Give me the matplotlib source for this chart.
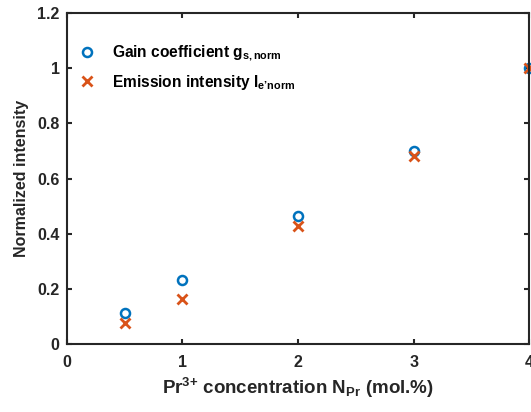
import numpy as np
import matplotlib
matplotlib.use('Agg')
import matplotlib.pyplot as plt

# data
conc = [0.5, 1, 2, 3, 4]
gain_norm = [0.115, 0.232, 0.465, 0.701, 1.0]
emission_norm = [0.076, 0.164, 0.429, 0.683, 1.0]

xticks = [0, 1, 2, 3, 4]
yticks = [0, 0.2, 0.4, 0.6, 0.8, 1.0, 1.2]
yticklabels = ['0', '0.2', '0.4', '0.6', '0.8', '1', '1.2']

plt.rcParams['font.family'] = ['Liberation Sans', 'DejaVu Sans']
plt.rcParams['font.weight'] = 'bold'
plt.rcParams['mathtext.fontset'] = 'custom'
plt.rcParams['mathtext.rm'] = 'Liberation Sans:bold'
plt.rcParams['mathtext.it'] = 'Liberation Sans:bold'
plt.rcParams['mathtext.bf'] = 'Liberation Sans:bold'
plt.rcParams['mathtext.default'] = 'rm'

blue = '#0072BD'
orange = '#D95319'
dark = '#262626'

fig = plt.figure(figsize=(5.31, 4.12), dpi=100)
ax = fig.add_axes([0.1256, 0.1643, 0.8715, 0.8041])

ax.plot(conc, gain_norm, linestyle='none', marker='o', markersize=6.5,
        markerfacecolor='none', markeredgecolor=blue, markeredgewidth=1.8,
        clip_on=False, label='Gain coefficient g$_{s,norm}$')
ax.plot(conc, emission_norm, linestyle='none', marker='x', markersize=6.5,
        color=orange, markeredgewidth=2.0, clip_on=False,
        label='Emission intensity I$_{e’norm}$')

ax.set_xlim(0, 4)
ax.set_ylim(0, 1.2)
ax.set_xticks(xticks)
ax.set_yticks(yticks)
ax.set_yticklabels(yticklabels)

for s in ax.spines.values():
    s.set_linewidth(1.5)
    s.set_color(dark)
ax.tick_params(direction='in', length=3.5, width=1.5, color=dark,
               top=True, right=True, labelsize=11.5, labelcolor=dark)
ax.tick_params(axis='x', pad=8)
ax.tick_params(axis='y', pad=5)

ax.set_xlabel('Pr$^{3{+}}$ concentration N$_{Pr}$ (mol.%)', fontsize=13.5,
              fontweight='bold', color=dark, labelpad=4)
ax.set_ylabel('Normalized intensity', fontsize=11.5, fontweight='bold',
              color=dark, labelpad=6)

ax.legend(loc='upper left', bbox_to_anchor=(0.0, 0.94), frameon=False,
          fontsize=11.2, handletextpad=1.0, handlelength=1.2,
          labelspacing=0.6, borderaxespad=0.3)

fig.savefig('out.png', dpi=100)
